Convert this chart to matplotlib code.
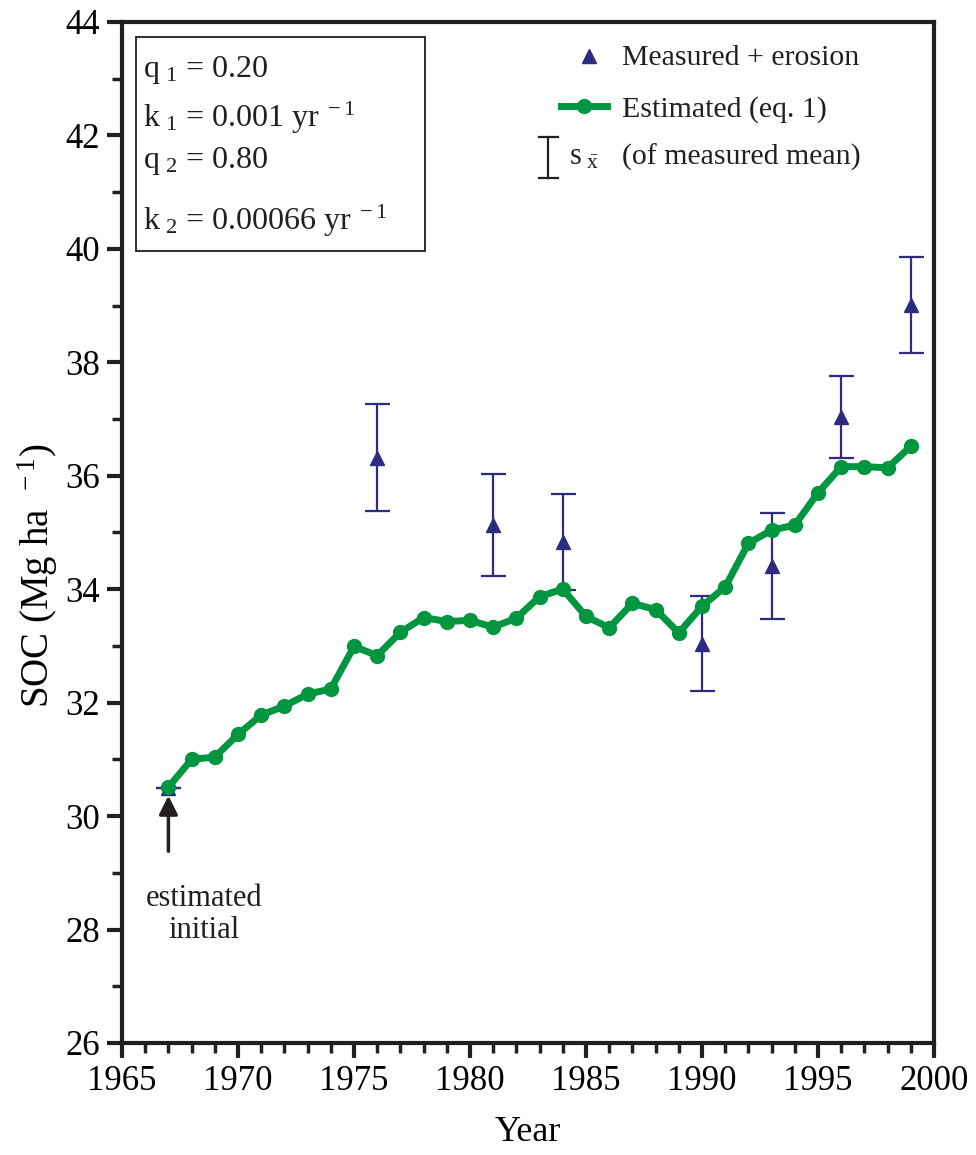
import matplotlib
matplotlib.use("Agg")
import matplotlib.pyplot as plt
import matplotlib.patches as patches
from matplotlib.ticker import MultipleLocator
import numpy as np

# 数据
years_est = list(range(1967, 2000))
soc_est = [30.51, 31.00, 31.04, 31.44, 31.78, 31.94, 32.15, 32.24, 32.99, 32.83,
           33.24, 33.50, 33.43, 33.45, 33.33, 33.49, 33.87, 34.00, 33.52, 33.32,
           33.75, 33.64, 33.23, 33.70, 34.04, 34.81, 35.04, 35.13, 35.70, 36.16,
           36.16, 36.14, 36.52]

years_meas = [1967, 1976, 1981, 1984, 1990, 1993, 1996, 1999]
soc_meas = [30.50, 36.32, 35.13, 34.83, 33.04, 34.41, 37.04, 39.01]
soc_err = [0.0, 0.95, 0.90, 0.84, 0.84, 0.94, 0.72, 0.85]

params_text = [
    r"q$_{\ 1}$ = 0.20",
    r"k$_{\ 1}$ = 0.001 yr$^{\ -1}$",
    r"q$_{\ 2}$ = 0.80",
    r"k$_{\ 2}$ = 0.00066 yr$^{\ -1}$",
]

green = "#00963f"
navy = "#2e2b80"
dark = "#231f20"

plt.rcParams["font.family"] = ["Liberation Serif", "DejaVu Serif"]
plt.rcParams["mathtext.fontset"] = "custom"
plt.rcParams["mathtext.rm"] = "Liberation Serif"
plt.rcParams["mathtext.it"] = "Liberation Serif"

fig = plt.figure(figsize=(9.76, 11.55), dpi=100)
ax = fig.add_axes([0.125, 0.097, 0.832, 0.884])

# 实测值 + 误差棒
ax.errorbar(years_meas, soc_meas, yerr=soc_err, fmt="^", color=navy,
            markersize=10, elinewidth=1.6, capsize=9, capthick=1.6, zorder=2)

# 估算曲线
ax.plot(years_est, soc_est, "-o", color=green, linewidth=5, markersize=10, zorder=3)

ax.set_xlim(1965, 2000)
ax.set_ylim(26, 44)
ax.xaxis.set_major_locator(MultipleLocator(5))
ax.xaxis.set_minor_locator(MultipleLocator(1))
ax.yaxis.set_major_locator(MultipleLocator(2))
ax.yaxis.set_minor_locator(MultipleLocator(1))
ax.tick_params(which="major", direction="out", length=11, width=3, color=dark,
               labelsize=25, pad=5)
ax.tick_params(which="minor", direction="out", length=7, width=2.5, color=dark)
for sp in ax.spines.values():
    sp.set_linewidth(3)
    sp.set_color(dark)

ax.set_xlabel("Year", fontsize=26, labelpad=13)
ax.set_ylabel(r"SOC (Mg ha$^{\ \ -1}$)", fontsize=28)
ax.yaxis.set_label_coords(-0.076, 0.458)

# 参数框
ax.add_patch(patches.Rectangle((0.0172, 0.776), 0.356, 0.209, transform=ax.transAxes,
                               fill=False, edgecolor=dark, linewidth=1.3, zorder=4))
for txt, yy in zip(params_text, [0.946, 0.897, 0.857, 0.796]):
    ax.text(0.026, yy, txt, transform=ax.transAxes, fontsize=23, va="baseline",
            ha="left", color=dark)

# 图例（手工绘制）
ax.plot([0.575], [0.967], "^", color=navy, markersize=10, transform=ax.transAxes,
        clip_on=False)
ax.text(0.616, 0.958, "Measured + erosion", transform=ax.transAxes, fontsize=21.5,
        va="baseline", color=dark)
ax.plot([0.541, 0.597], [0.918, 0.918], "-", color=green, linewidth=5,
        transform=ax.transAxes)
ax.plot([0.569], [0.918], "o", color=green, markersize=10, transform=ax.transAxes)
ax.text(0.616, 0.907, "Estimated (eq. 1)", transform=ax.transAxes, fontsize=21.5,
        va="baseline", color=dark)
ax.plot([0.525, 0.525], [0.847, 0.887], "-", color=dark, linewidth=1.6,
        transform=ax.transAxes)
ax.plot([0.513, 0.537], [0.887, 0.887], "-", color=dark, linewidth=1.6,
        transform=ax.transAxes)
ax.plot([0.513, 0.537], [0.847, 0.847], "-", color=dark, linewidth=1.6,
        transform=ax.transAxes)
ax.text(0.551, 0.860, r"s$_{\ \bar{\mathrm{x}}}$", transform=ax.transAxes,
        fontsize=22, va="baseline", color=dark)
ax.text(0.616, 0.860, "(of measured mean)", transform=ax.transAxes, fontsize=21.5,
        va="baseline", color=dark)

# 初始值箭头
ax.annotate("", xy=(years_est[0], 30.36), xytext=(years_est[0], 29.38),
            arrowprops=dict(arrowstyle="-|>", color=dark, lw=2.5,
                            mutation_scale=28, shrinkA=0, shrinkB=0))
ax.text(1968.55, 28.27, "estimated\ninitial", fontsize=22, ha="center",
        va="center", linespacing=1.12, color=dark)

fig.savefig("out.png", dpi=100)
